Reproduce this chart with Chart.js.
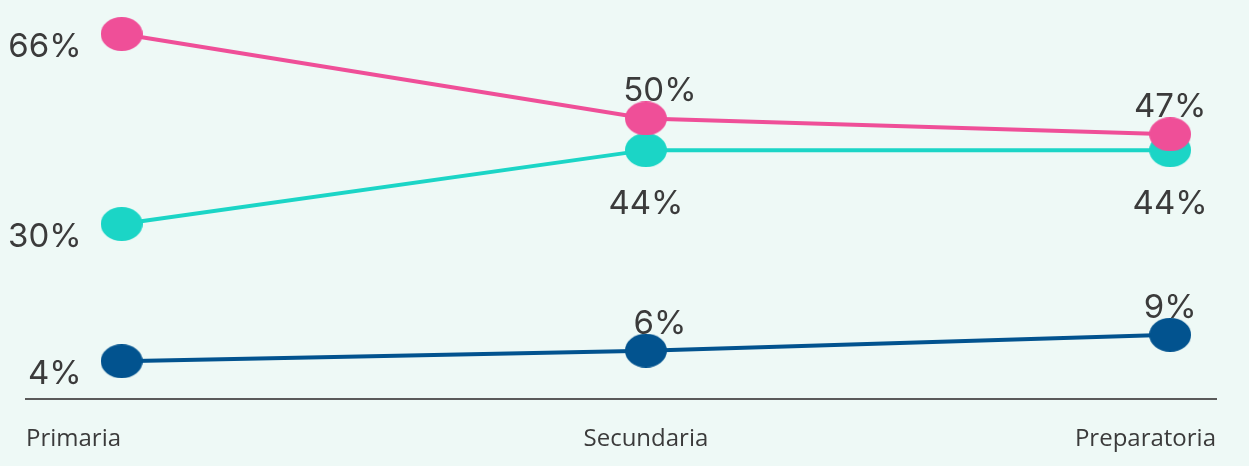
<!DOCTYPE html>
<html>
<head>
<meta charset="utf-8">
<script src="https://cdn.jsdelivr.net/npm/chart.js@4/dist/chart.umd.min.js"></script>
<style>
  html, body { margin: 0; padding: 0; background: #eef9f6; }
  #wrap { width: 1249px; height: 466px; }
</style>
</head>
<body>
<div id="wrap"><canvas id="levelsChart"></canvas></div>
<script>
const levels = ["Primaria", "Secundaria", "Preparatoria"];
const pinkValues = [66, 50, 47];
const tealValues = [30, 44, 44];
const blueValues = [4, 6, 9];

const bgColor = "#eef9f6";
const labelColor = "#3b3b3b";

function ellipseDot(color) {
  const c = document.createElement("canvas");
  c.width = 42;
  c.height = 34;
  const g = c.getContext("2d");
  g.fillStyle = color;
  g.beginPath();
  g.ellipse(21, 17, 21, 17, 0, 0, Math.PI * 2);
  g.fill();
  return c;
}

function series(values, color, below) {
  return {
    data: values.map((v, i) => ({ x: i, y: v })),
    borderColor: color,
    backgroundColor: color,
    borderWidth: 4,
    pointStyle: ellipseDot(color),
    pointRadius: 17,
    tension: 0,
    clip: false,
    labelBelow: below,
  };
}

const background = {
  id: "background",
  beforeDraw(chart) {
    const ctx = chart.ctx;
    ctx.save();
    ctx.fillStyle = bgColor;
    ctx.fillRect(0, 0, chart.width, chart.height);
    ctx.restore();
  },
};

// percentage labels next to each point
const valueLabels = {
  id: "valueLabels",
  afterDatasetsDraw(chart) {
    const ctx = chart.ctx;
    ctx.save();
    ctx.font = "33px Inter";
    ctx.fillStyle = labelColor;
    ctx.textBaseline = "middle";
    chart.data.datasets.forEach((ds, di) => {
      chart.getDatasetMeta(di).data.forEach((pt, i) => {
        const text = ds.data[i].y + "%";
        if (i === 0) {
          ctx.textAlign = "right";
          ctx.fillText(text, pt.x - 40, pt.y + 13);
        } else if (ds.labelBelow) {
          ctx.textAlign = "center";
          ctx.fillText(text, pt.x, pt.y + 54);
        } else {
          ctx.textAlign = "center";
          ctx.fillText(text, pt.x + (i === 1 ? 14 : 0), pt.y - 27);
        }
      });
    });
    ctx.restore();
  },
};

new Chart(document.getElementById("levelsChart"), {
  type: "line",
  data: {
    datasets: [
      series(pinkValues, "#ef4f98", false),
      series(tealValues, "#1bd5c6", true),
      series(blueValues, "#02538f", false),
    ],
  },
  options: {
    responsive: true,
    maintainAspectRatio: false,
    animation: false,
    layout: { padding: { left: 22, right: 33, top: 0, bottom: -14 } },
    plugins: { legend: { display: false }, tooltip: { enabled: false } },
    scales: {
      x: {
        type: "linear",
        min: -0.1825,
        max: 2.0875,
        afterBuildTicks(scale) {
          scale.ticks = [{ value: scale.min }, { value: 1 }, { value: scale.max }];
        },
        grid: { display: false, drawTicks: false },
        border: { display: true, color: "#5a5a5a", width: 2 },
        ticks: {
          align: "inner",
          autoSkip: false,
          maxRotation: 0,
          padding: 26,
          color: labelColor,
          font: { family: "Open Sans", size: 24 },
          callback: (value, index) => levels[index],
        },
      },
      y: {
        display: false,
        min: -3.2,
        max: 68.47,
      },
    },
  },
  plugins: [background, valueLabels],
});
</script>
</body>
</html>
